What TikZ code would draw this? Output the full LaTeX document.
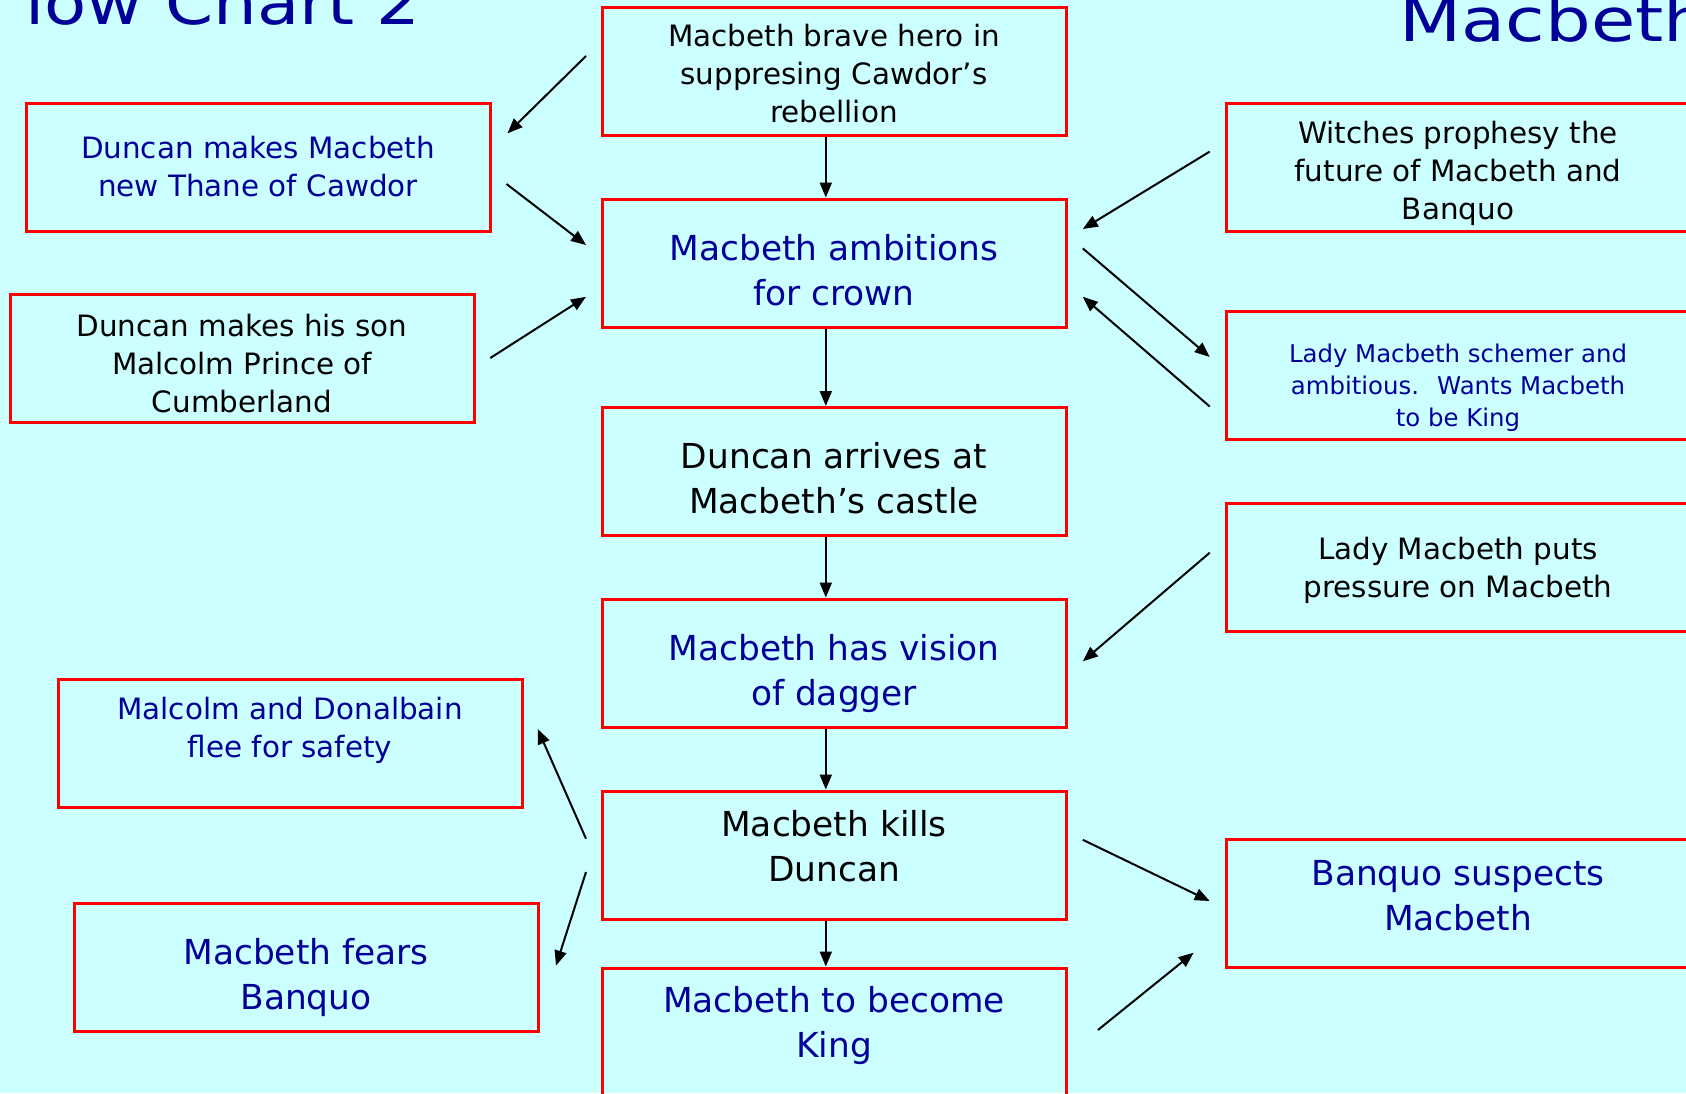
\documentclass[tikz,border=0pt]{standalone}
\usepackage{fontspec}
\setmainfont{DejaVu Sans}
\usetikzlibrary{arrows.meta}
\definecolor{bgc}{HTML}{CCFFFF}
\definecolor{dblue}{HTML}{000099}
\definecolor{bred}{HTML}{FF0000}
\begin{document}
\begin{tikzpicture}[x=0.5pt,y=-0.5pt,
  box/.style={draw=bred,line width=1.5pt,minimum width=232pt,minimum height=64pt,inner sep=0pt},
  small/.style={font=\fontsize{14.7}{19}\selectfont,align=center,inner sep=0pt},
  large/.style={font=\fontsize{17.2}{22.5}\selectfont,align=center,inner sep=0pt},
  tinyt/.style={font=\fontsize{12.2}{16}\selectfont,align=center,inner sep=0pt},
  bt/.style={text=dblue},
  kt/.style={text=black},
  title/.style={font=\fontsize{30}{36}\selectfont,text=dblue,inner sep=0pt},
  arr/.style={line width=1pt,-{Triangle[length=7.5pt,width=6pt]}}
]
\useasboundingbox (0,0) rectangle (1686,1093);
\clip (0,0) rectangle (1686,1093);
\fill[bgc] (0,0) rectangle (1686,1093);

% titles
\node[title,anchor=base west] (t1) at (-40,24) {\scalebox{1.15}[1]{F\kern11pt low Chart 2}};
\node[title,anchor=base west] (t2) at (1399,41) {\scalebox{1.2}[1]{Macbeth}};

% central column
\node[box] (b1) at (834,71.5) {};
\node[box] (b2) at (834,263) {};
\node[box] (b3) at (834,471.5) {};
\node[box] (b4) at (834,663) {};
\node[box] (b5) at (834,855) {};
\node[box] (b6) at (834,1032) {};
% left column
\node[box] (l1) at (258,167.2) {};
\node[box] (l2) at (242,358.6) {};
\node[box] (l3) at (290.3,743.6) {};
\node[box] (l4) at (306,967.3) {};
% right column
\node[box] (r1) at (1458,167.2) {};
\node[box] (r2) at (1458,375.5) {};
\node[box] (r3) at (1458,567) {};
\node[box] (r4) at (1458,903.5) {};

% texts
\node[small,kt] (b1t) at (834,74) {Macbeth brave hero in\\suppresing Cawdor’s\\rebellion};
\node[large,bt] (b2t) at (834,270) {Macbeth ambitions\\for crown};
\node[large,kt] (b3t) at (834,478) {Duncan arrives at\\Macbeth’s castle};
\node[large,bt] (b4t) at (834,673) {Macbeth has vision\\of dagger};
\node[large,kt] (b5t) at (834,846) {Macbeth kills\\Duncan};
\node[large,bt] (b6t) at (834,1025) {Macbeth to become\\King};
\node[small,bt] (l1t) at (258,167) {Duncan makes Macbeth\\new Thane of Cawdor};
\node[small,kt] (l2t) at (242,363.5) {Duncan makes his son\\Malcolm Prince of\\Cumberland};
\node[small,bt] (l3t) at (290,730) {Malcolm and Donalbain\\flee for safety};
\node[large,bt] (l4t) at (306,977) {Macbeth fears\\Banquo};
\node[small,kt] (r1t) at (1458,173) {Witches prophesy the\\future of Macbeth and\\Banquo};
\node[tinyt,bt] (r2t) at (1458,388) {Lady Macbeth schemer and\\ambitious.~ Wants Macbeth\\to be King};
\node[small,kt] (r3t) at (1458,570) {Lady Macbeth puts\\pressure on Macbeth};
\node[large,bt] (r4t) at (1458,896) {Banquo suspects\\Macbeth};

% vertical arrows
\draw[arr] ([xshift=-4.1pt]b1.south) -- ([xshift=-4.1pt]b2.north);
\draw[arr] ([xshift=-4.1pt]b2.south) -- ([xshift=-4.1pt]b3.north);
\draw[arr] ([xshift=-4.1pt]b3.south) -- ([xshift=-4.1pt]b4.north);
\draw[arr] ([xshift=-4.1pt]b4.south) -- ([xshift=-4.1pt]b5.north);
\draw[arr] ([xshift=-4.1pt]b5.south) -- ([xshift=-4.1pt]b6.north);

% diagonal arrow end points
\coordinate (a1s) at (586,56);      \coordinate (a1e) at (507.5,133.3);
\coordinate (a2s) at (506.5,184);   \coordinate (a2e) at (586,245);
\coordinate (a3s) at (490.3,358);   \coordinate (a3e) at (586,296.8);
\coordinate (a4s) at (1209.7,151.6);\coordinate (a4e) at (1082.8,229);
\coordinate (a5s) at (1082.8,248.4);\coordinate (a5e) at (1209.7,357);
\coordinate (a6s) at (1209.7,406.5);\coordinate (a6e) at (1082.8,296.8);
\coordinate (a7s) at (1209.7,552.7);\coordinate (a7e) at (1082.8,661.3);
\coordinate (a8s) at (586,838.7);   \coordinate (a8e) at (537.7,729);
\coordinate (a9s) at (586,872);     \coordinate (a9e) at (556,965.6);
\coordinate (a10s) at (1082.8,839.8);\coordinate (a10e) at (1209.7,901);
\coordinate (a11s) at (1097.9,1030);\coordinate (a11e) at (1193.6,952.7);

\draw[arr] (a1s) -- (a1e);
\draw[arr] (a2s) -- (a2e);
\draw[arr] (a3s) -- (a3e);
\draw[arr] (a4s) -- (a4e);
\draw[arr] (a5s) -- (a5e);
\draw[arr] (a6s) -- (a6e);
\draw[arr] (a7s) -- (a7e);
\draw[arr] (a8s) -- (a8e);
\draw[arr] (a9s) -- (a9e);
\draw[arr] (a10s) -- (a10e);
\draw[arr] (a11s) -- (a11e);
\end{tikzpicture}
\end{document}
